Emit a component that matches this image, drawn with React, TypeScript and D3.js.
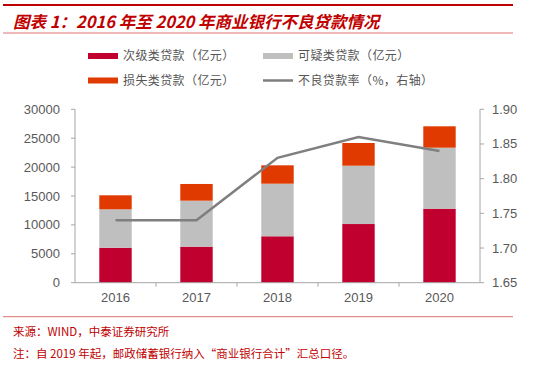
import React from "react";
import * as d3 from "d3";

const years = ["2016", "2017", "2018", "2019", "2020"];
const substandard = [6050, 6230, 8030, 10150, 12800];
const doubtful = [6650, 7960, 9100, 10090, 10560];
const loss = [2420, 2890, 3180, 3930, 3700];
const nplRate = [1.74, 1.74, 1.83, 1.86, 1.84];
const leftTicks = [0, 5000, 10000, 15000, 20000, 25000, 30000];
const rightTicks = [1.65, 1.7, 1.75, 1.8, 1.85, 1.9];

const seriesNames = ["次级类贷款（亿元）", "可疑类贷款（亿元）", "损失类贷款（亿元）", "不良贷款率（%，右轴）"];
const colors = ["#C0002F", "#BFBFBF", "#E03A00", "#7F7F7F"];

const W = 550, H = 367;
const plotL = 75, plotR = 480, plotT = 109.3, plotB = 282.7;
const tickFont = "'Liberation Sans', Arial, sans-serif";
const cjkFont = "'Noto Sans CJK SC', sans-serif";

export default function App() {
  const x = d3.scaleBand<string>().domain(years).range([plotL, plotR]).paddingInner(0.6).paddingOuter(0.3);
  const yL = d3.scaleLinear().domain([0, 30000]).range([plotB, plotT]);
  const yR = d3.scaleLinear().domain([1.65, 1.9]).range([plotB, plotT]);

  const rows = years.map((y, i) => ({ year: y, a: substandard[i], b: doubtful[i], c: loss[i] }));
  const stack = d3.stack<any>().keys(["a", "b", "c"])(rows);

  const line = d3.line<number>()
    .x((_, i) => (x(years[i]) as number) + x.bandwidth() / 2)
    .y((d) => yR(d));

  const step = x.step();
  const boundaries = years.slice(1).map((y) => (x(y) as number) - (step - x.bandwidth()) / 2);

  const axisColor = "#A6A6A6";
  const labelColor = "#595959";

  const legendItems = [
    { x: 88, y: 56, i: 0 },
    { x: 263, y: 56, i: 1 },
    { x: 88, y: 80.5, i: 2 },
    { x: 263, y: 80.5, i: 3 },
  ];

  return (
    <svg width={W} height={H} style={{ position: "absolute", left: 0, top: 0 }}>
      <rect x={0} y={0} width={W} height={H} fill="#fff" />
      <line x1={3} x2={513} y1={5} y2={5} stroke="#C00000" strokeWidth={2} />
      <text x={13} y={27.5} fill="#C00000" fontFamily={cjkFont} fontSize={16.5} fontWeight="bold" fontStyle="italic">
        图表 1：2016 年至 2020 年商业银行不良贷款情况
      </text>
      <line x1={3} x2={513} y1={33} y2={33} stroke="#E07070" strokeWidth={1} />

      {legendItems.map((it) => (
        <g key={it.i}>
          {it.i < 3 ? (
            <rect x={it.x} y={it.y - 3} width={30} height={6} fill={colors[it.i]} />
          ) : (
            <line x1={it.x} x2={it.x + 30} y1={it.y} y2={it.y} stroke={colors[3]} strokeWidth={2.5} />
          )}
          <text x={it.x + 35} y={it.y + 4.2} fontFamily={cjkFont} fontSize={12} letterSpacing={0.4} fill="#555">
            {seriesNames[it.i]}
          </text>
        </g>
      ))}

      {stack.map((s, si) => (
        <g key={si}>
          {s.map((d, di) => (
            <rect key={di} x={x(years[di])} width={x.bandwidth()} y={yL(d[1])} height={yL(d[0]) - yL(d[1])} fill={colors[si]} />
          ))}
        </g>
      ))}

      <path d={line(nplRate) || ""} fill="none" stroke={colors[3]} strokeWidth={2.5} />

      <line x1={plotL} x2={plotL} y1={plotT} y2={plotB} stroke={axisColor} />
      {leftTicks.map((t) => (
        <g key={t}>
          <line x1={plotL - 4} x2={plotL} y1={yL(t)} y2={yL(t)} stroke={axisColor} />
          <text x={60} y={yL(t) + 4.5} textAnchor="end" fontFamily={tickFont} fontSize={13} fill={labelColor}>
            {t}
          </text>
        </g>
      ))}
      <line x1={plotR} x2={plotR} y1={plotT} y2={plotB} stroke={axisColor} />
      {rightTicks.map((t) => (
        <g key={t}>
          <line x1={plotR} x2={plotR + 4} y1={yR(t)} y2={yR(t)} stroke={axisColor} />
          <text x={492} y={yR(t) + 4.5} fontFamily={tickFont} fontSize={13} fill={labelColor}>
            {t.toFixed(2)}
          </text>
        </g>
      ))}
      <line x1={plotL} x2={plotR} y1={plotB} y2={plotB} stroke={axisColor} />
      {boundaries.map((b, i) => (
        <line key={i} x1={b} x2={b} y1={plotB} y2={plotB + 4} stroke={axisColor} />
      ))}
      {years.map((y) => (
        <text key={y} x={(x(y) as number) + x.bandwidth() / 2} y={plotB + 19} textAnchor="middle" fontFamily={tickFont} fontSize={13} fill={labelColor}>
          {y}
        </text>
      ))}

      <line x1={3} x2={513} y1={316.7} y2={316.7} stroke="#E07070" strokeWidth={1} />
      <text x={13} y={335.5} fontFamily={cjkFont} fontSize={11.5} fill="#C00000">
        来源：WIND，中泰证券研究所
      </text>
      <text x={13} y={357.5} fontFamily={cjkFont} fontSize={11.5} fill="#C00000">
        注：自 2019 年起，邮政储蓄银行纳入“商业银行合计”汇总口径。
      </text>
    </svg>
  );
}
